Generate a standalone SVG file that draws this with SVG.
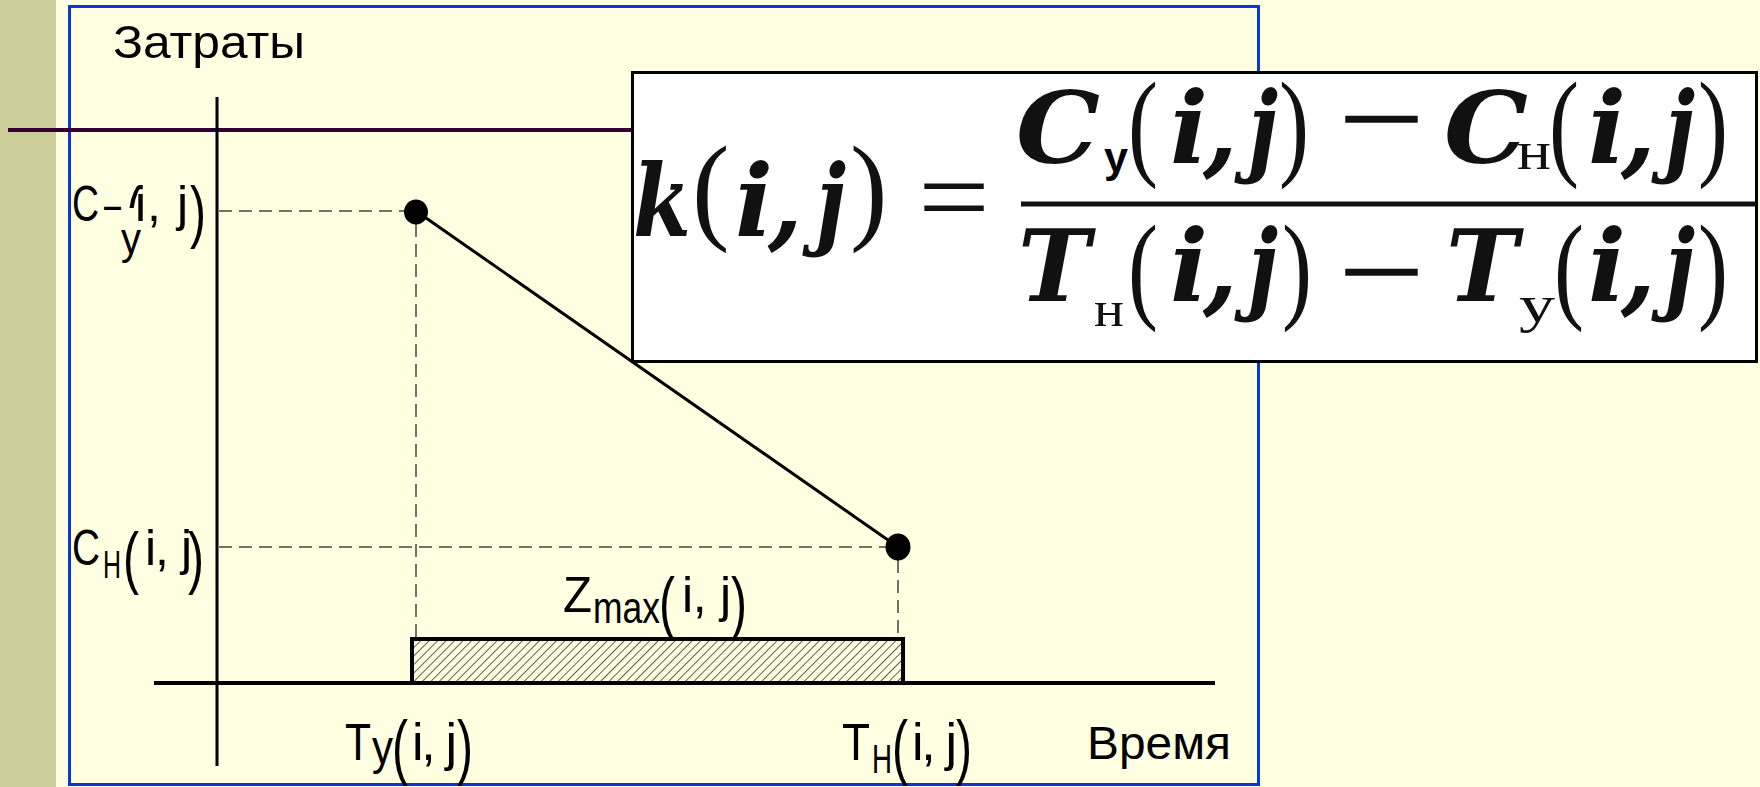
<svg xmlns="http://www.w3.org/2000/svg" width="1760" height="787" viewBox="0 0 1760 787">
<defs>
<pattern id="hatch" width="6" height="6" patternUnits="userSpaceOnUse" patternTransform="rotate(45)">
<line x1="0" y1="0" x2="0" y2="6" stroke="#1a1a1a" stroke-width="1.4"/>
</pattern>
<clipPath id="cyclip"><rect x="124" y="186" width="18" height="22"/></clipPath>
</defs>
<style>
.lbl{font-family:"Liberation Sans",Arial,sans-serif;fill:#000;}
.par{font-family:"Liberation Sans",Arial,sans-serif;font-size:48px;fill:#000;}
.fm{font-family:"DejaVu Serif",serif;font-weight:bold;font-style:italic;font-size:100px;fill:#111;}
.fp{font-family:"Liberation Serif",serif;font-size:90px;fill:#111;}
.fo{font-family:"Liberation Serif",serif;font-size:110px;fill:#111;}
.fmin{font-family:"DejaVu Serif",serif;font-size:86px;fill:#111;}
.fs{font-family:"Liberation Serif",serif;fill:#111;}
.dash{stroke:#444;stroke-width:1.5;stroke-dasharray:13 7;fill:none;}
.ax{stroke:#000;fill:none;}
</style>
<rect x="0" y="0" width="1760" height="787" fill="#FFFFE1"/>
<rect x="0" y="0" width="56" height="787" fill="#CCCC99"/>
<rect id="frame" x="69.5" y="6.5" width="1189" height="778" fill="none" stroke="#0A36D8" stroke-width="3"/>
<line x1="8" y1="130" x2="632" y2="130" stroke="#330033" stroke-width="4"/>
<g id="axes">
<line class="ax" x1="217" y1="97" x2="217" y2="766" stroke-width="3"/>
<line class="ax" x1="154" y1="683" x2="1215" y2="683" stroke-width="4"/>
</g>
<g id="connectors">
<line class="dash" x1="219" y1="211" x2="404" y2="211"/>
<line class="dash" x1="416" y1="224" x2="416" y2="639"/>
<line class="dash" x1="219" y1="547" x2="886" y2="547"/>
<line class="dash" x1="898" y1="560" x2="898" y2="639"/>
<line x1="416" y1="211" x2="898" y2="547" stroke="#000" stroke-width="3"/>
</g>
<g id="zmax-bar">
<rect x="412" y="639" width="491" height="44" fill="url(#hatch)" stroke="#000" stroke-width="4"/>
</g>
<g id="point-top"><ellipse cx="416" cy="212" rx="12" ry="12.5" fill="#000"/></g>
<g id="point-bottom"><ellipse cx="898" cy="547" rx="12.5" ry="13.5" fill="#000"/></g>
<g id="label-zatraty"><text class="lbl" x="113" y="58" font-size="47" textLength="192" lengthAdjust="spacingAndGlyphs">Затраты</text></g>
<g id="label-vremya"><text class="lbl" x="1087" y="759" font-size="46" textLength="144" lengthAdjust="spacingAndGlyphs">Время</text></g>
<g id="label-cy">
<text class="lbl" x="72" y="221" font-size="50" textLength="27" lengthAdjust="spacingAndGlyphs">C</text>
<text class="lbl" x="104" y="221" font-size="50" textLength="17" lengthAdjust="spacingAndGlyphs">–</text>
<g clip-path="url(#cyclip)"><text class="par" transform="translate(126,234.7) scale(1,1.42)">(</text></g>
<text class="lbl" x="135" y="221" font-size="50" textLength="53" lengthAdjust="spacing">i, j</text>
<text class="par" transform="translate(190,234.7) scale(1,1.42)">)</text>
<text class="lbl" x="121" y="254" font-size="44" textLength="20" lengthAdjust="spacingAndGlyphs">у</text>
</g>
<g id="label-ch">
<text class="lbl" x="72" y="565" font-size="50" textLength="28" lengthAdjust="spacingAndGlyphs">C</text>
<text class="lbl" x="103" y="578" font-size="38" textLength="18" lengthAdjust="spacingAndGlyphs">Н</text>
<text class="par" transform="translate(123,580.7) scale(1,1.42)">(</text>
<text class="lbl" x="145" y="565" font-size="50" textLength="47" lengthAdjust="spacing">i, j</text>
<text class="par" transform="translate(188,580.7) scale(1,1.42)">)</text>
</g>
<g id="label-zmax">
<text class="lbl" x="563" y="612" font-size="50" textLength="29" lengthAdjust="spacingAndGlyphs">Z</text>
<text class="lbl" x="593" y="623" font-size="44" textLength="67" lengthAdjust="spacingAndGlyphs">max</text>
<text class="par" transform="translate(659,625.5) scale(1,1.44)">(</text>
<text class="lbl" x="682" y="612" font-size="50" textLength="49" lengthAdjust="spacing">i, j</text>
<text class="par" transform="translate(731,625.5) scale(1,1.44)">)</text>
</g>
<g id="label-ty">
<text class="lbl" x="345" y="760" font-size="52" textLength="26" lengthAdjust="spacingAndGlyphs">T</text>
<text class="lbl" x="372" y="764" font-size="48" textLength="21" lengthAdjust="spacingAndGlyphs">у</text>
<text class="par" transform="translate(392,770.8) scale(1,1.51)">(</text>
<text class="lbl" x="412" y="760" font-size="52" textLength="45" lengthAdjust="spacing">i, j</text>
<text class="par" transform="translate(457,770.8) scale(1,1.51)">)</text>
</g>
<g id="label-th">
<text class="lbl" x="842" y="760" font-size="52" textLength="28" lengthAdjust="spacingAndGlyphs">T</text>
<text class="lbl" x="872" y="773" font-size="40" textLength="20" lengthAdjust="spacingAndGlyphs">Н</text>
<text class="par" transform="translate(892,770.8) scale(1,1.51)">(</text>
<text class="lbl" x="912" y="760" font-size="52" textLength="45" lengthAdjust="spacing">i, j</text>
<text class="par" transform="translate(956,770.8) scale(1,1.51)">)</text>
</g>
<g id="formula">
<rect x="632.5" y="72.5" width="1124" height="289" fill="#FFFFFF" stroke="#000" stroke-width="3"/>
<text class="fm" x="633" y="236" textLength="58" lengthAdjust="spacingAndGlyphs">k</text>
<text class="fp" transform="translate(692,228) scale(1.25,1.31)">(</text>
<text class="fm" x="735" y="236">i</text>
<text class="fm" x="768" y="236">,</text>
<text class="fm" x="816" y="236" textLength="30" lengthAdjust="spacingAndGlyphs">j</text>
<text class="fp" transform="translate(850,228) scale(1.25,1.31)">)</text>
<text class="fo" x="918" y="234" textLength="72" lengthAdjust="spacingAndGlyphs">=</text>
<line x1="1021" y1="204" x2="1756" y2="204" stroke="#111" stroke-width="5"/>
<text class="fm" x="1016" y="163" textLength="84" lengthAdjust="spacingAndGlyphs">C</text>
<text class="lbl" x="1104" y="172" font-size="42" font-weight="bold" textLength="24" lengthAdjust="spacingAndGlyphs">у</text>
<text class="fp" transform="translate(1128,164) scale(1,1.31)">(</text>
<text class="fm" x="1170" y="163">i</text>
<text class="fm" x="1203" y="163">,</text>
<text class="fm" x="1248" y="163" textLength="30" lengthAdjust="spacingAndGlyphs">j</text>
<text class="fp" transform="translate(1279,164) scale(1,1.31)">)</text>
<text class="fmin" x="1333" y="146" textLength="97" lengthAdjust="spacingAndGlyphs">−</text>
<text class="fm" x="1444" y="163" textLength="84" lengthAdjust="spacingAndGlyphs">C</text>
<text class="fs" x="1517" y="169" font-size="54" textLength="34" lengthAdjust="spacingAndGlyphs">н</text>
<text class="fp" transform="translate(1549,164) scale(1,1.31)">(</text>
<text class="fm" x="1588" y="163">i</text>
<text class="fm" x="1621" y="163">,</text>
<text class="fm" x="1665" y="163" textLength="30" lengthAdjust="spacingAndGlyphs">j</text>
<text class="fp" transform="translate(1698,164) scale(1,1.31)">)</text>
<text class="fm" x="1018" y="301" textLength="72" lengthAdjust="spacingAndGlyphs">T</text>
<text class="fs" x="1094" y="326" font-size="50" textLength="30" lengthAdjust="spacingAndGlyphs">н</text>
<text class="fp" transform="translate(1128,307) scale(1,1.31)">(</text>
<text class="fm" x="1170" y="301">i</text>
<text class="fm" x="1203" y="301">,</text>
<text class="fm" x="1248" y="301" textLength="30" lengthAdjust="spacingAndGlyphs">j</text>
<text class="fp" transform="translate(1282,307) scale(1,1.31)">)</text>
<text class="fmin" x="1333" y="299" textLength="97" lengthAdjust="spacingAndGlyphs">−</text>
<text class="fm" x="1446" y="301" textLength="72" lengthAdjust="spacingAndGlyphs">T</text>
<text class="fs" x="1519" y="322" font-size="52" textLength="36" lengthAdjust="spacingAndGlyphs">у</text>
<text class="fp" transform="translate(1554,307) scale(1,1.31)">(</text>
<text class="fm" x="1588" y="301">i</text>
<text class="fm" x="1621" y="301">,</text>
<text class="fm" x="1665" y="301" textLength="30" lengthAdjust="spacingAndGlyphs">j</text>
<text class="fp" transform="translate(1698,307) scale(1,1.31)">)</text>
</g>
</svg>
